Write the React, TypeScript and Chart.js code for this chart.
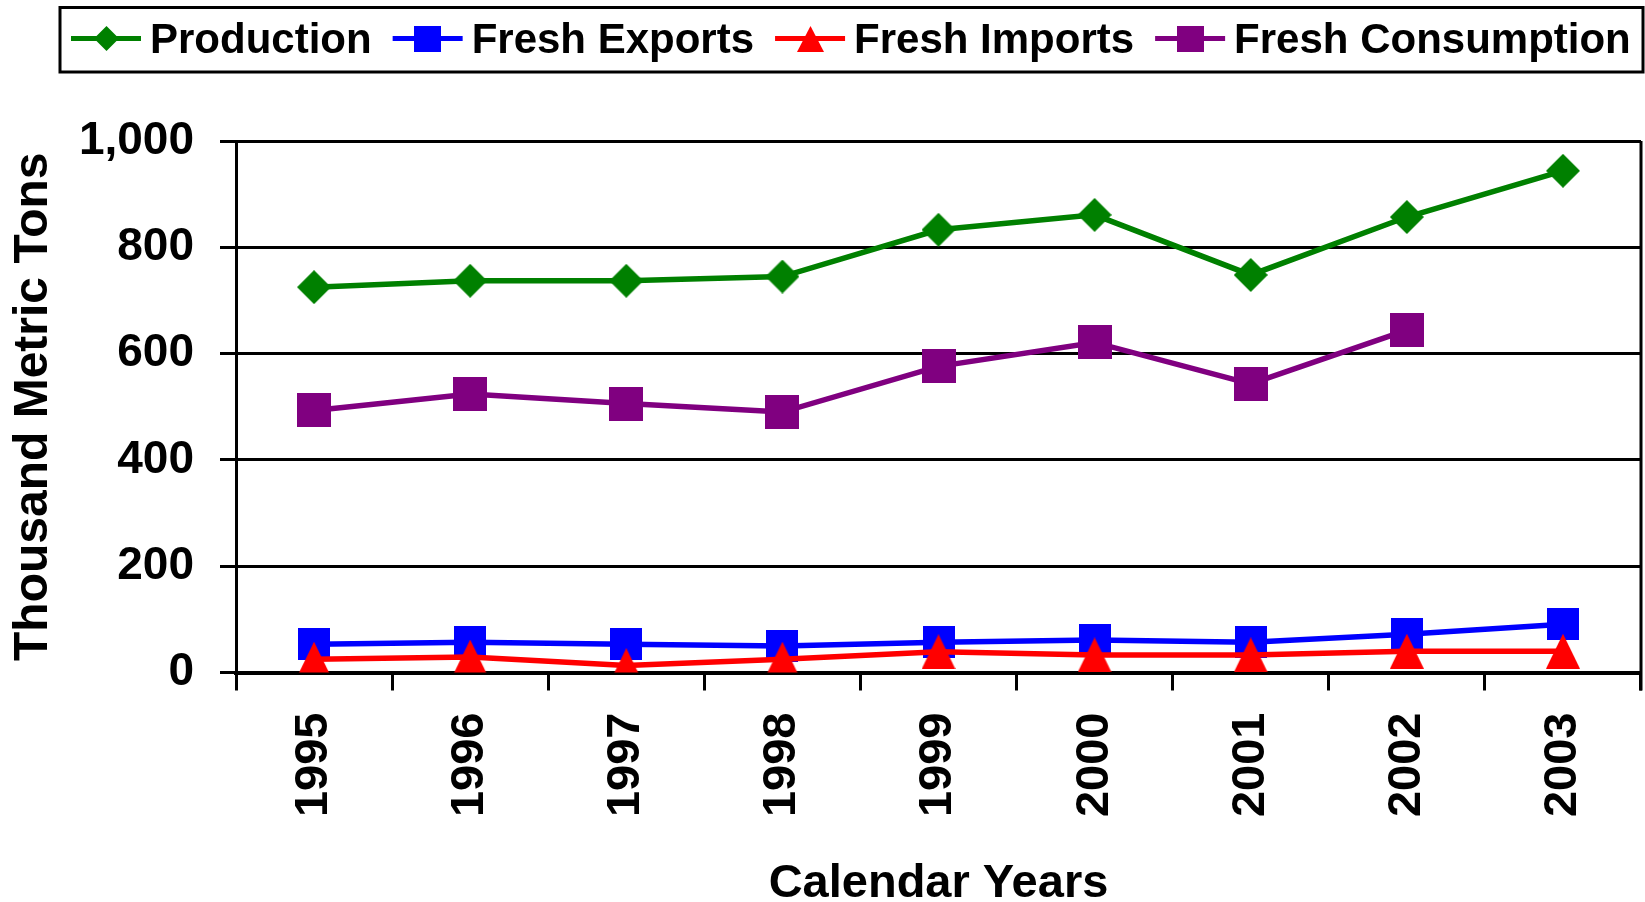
import React, { useEffect, useRef } from "react";
import { Chart, registerables } from "chart.js";

Chart.register(...registerables);

const years = ["1995", "1996", "1997", "1998", "1999", "2000", "2001", "2002", "2003"];
const production = [725, 737, 737, 745, 833, 861, 748, 857, 944];
const freshExports = [53, 57, 53, 50, 57, 61, 57, 72, 91];
const freshImports = [25, 29, 13, 25, 39, 33, 33, 40, 40];
const freshConsumption: (number | null)[] = [493, 524, 506, 490, 576, 621, 543, 644, null];
const seriesNames = ["Production", "Fresh Exports", "Fresh Imports", "Fresh Consumption"];
const yTicks = [0, 200, 400, 600, 800, 1000];

const FONT = '"Liberation Sans", Arial, Helvetica, sans-serif';

type Shape = "diamond" | "square" | "triangle";

function makeMarker(shape: Shape, color: string, w: number, h: number): HTMLCanvasElement {
  const c = document.createElement("canvas");
  c.width = w;
  c.height = h;
  const g = c.getContext("2d")!;
  g.fillStyle = color;
  g.beginPath();
  if (shape === "diamond") {
    g.moveTo(w / 2, 0);
    g.lineTo(w, h / 2);
    g.lineTo(w / 2, h);
    g.lineTo(0, h / 2);
  } else if (shape === "square") {
    g.rect(0, 0, w, h);
  } else {
    g.moveTo(w / 2, 0);
    g.lineTo(w, h);
    g.lineTo(0, h);
  }
  g.closePath();
  g.fill();
  return c;
}

export default function App() {
  const ref = useRef<HTMLCanvasElement | null>(null);

  useEffect(() => {
    if (!ref.current) return;
    const colors = ["#008000", "#0000FF", "#FF0000", "#800080"];
    const shapes: Shape[] = ["diamond", "square", "triangle", "square"];
    const drawOrder = [1, 2, 0, 1];
    const chartMarkerSizes = [[34, 34], [32, 32], [34, 35], [34, 34]];
    const legendMarkerSizes = [[25, 25], [27, 26], [27, 26], [27, 26]];
    const chartMarkers = shapes.map((s, i) => makeMarker(s, colors[i], chartMarkerSizes[i][0], chartMarkerSizes[i][1]));
    const legendMarkers = shapes.map((s, i) => makeMarker(s, colors[i], legendMarkerSizes[i][0], legendMarkerSizes[i][1]));
    const seriesData = [production, freshExports, freshImports, freshConsumption];

    const boxLegend = {
      id: "boxLegend",
      afterDraw(chart: any) {
        const ctx = chart.ctx as CanvasRenderingContext2D;
        ctx.save();
        ctx.font = `bold 42px ${FONT}`;
        ctx.textBaseline = "middle";
        ctx.textAlign = "left";
        let x = 71;
        const cy = 38.5;
        chart.data.datasets.forEach((ds: any, i: number) => {
          ctx.strokeStyle = ds.borderColor;
          ctx.lineWidth = 5;
          ctx.beginPath();
          ctx.moveTo(x, cy);
          ctx.lineTo(x + 70, cy);
          ctx.stroke();
          const m = legendMarkers[i];
          ctx.drawImage(m, Math.round(x + 35 - m.width / 2), Math.round(cy - m.height / 2));
          ctx.fillStyle = "#000";
          ctx.fillText(ds.label, x + 79, cy + 3);
          x += 79 + ctx.measureText(ds.label).width + 21;
        });
        ctx.lineWidth = 3;
        ctx.strokeStyle = "#000";
        ctx.strokeRect(60, 7.5, 1583, 64.5);
        ctx.restore();
      },
    };

    const rightBorder = {
      id: "rightBorder",
      afterDatasetsDraw(chart: any) {
        const { ctx, chartArea } = chart;
        ctx.save();
        ctx.strokeStyle = "#000";
        ctx.lineWidth = 3;
        ctx.beginPath();
        ctx.moveTo(chartArea.right, chartArea.top);
        ctx.lineTo(chartArea.right, chartArea.bottom + 18);
        ctx.stroke();
        ctx.restore();
      },
    };

    const chart = new Chart(ref.current, {
      type: "line",
      data: {
        labels: years,
        datasets: seriesNames.map((name, i) => ({
          label: name,
          data: seriesData[i] as any,
          borderColor: colors[i],
          backgroundColor: colors[i],
          borderWidth: 5.5,
          pointStyle: chartMarkers[i] as any,
          pointRadius: 17,
          pointHoverRadius: 17,
          tension: 0,
          spanGaps: false,
          order: drawOrder[i],
        })),
      },
      options: {
        animation: false,
        responsive: false,
        devicePixelRatio: 1,
        layout: { autoPadding: false, padding: { top: 141, right: 4, left: 0, bottom: 0 } },
        plugins: {
          legend: { display: false },
          tooltip: { enabled: false },
        },
        scales: {
          x: {
            type: "category",
            offset: true,
            grid: {
              offset: true,
              drawOnChartArea: false,
              drawTicks: true,
              tickLength: 18,
              tickWidth: 3,
              tickColor: "#000",
            },
            border: { display: true, color: "#000", width: 4 },
            ticks: {
              minRotation: 90,
              maxRotation: 90,
              autoSkip: false,
              padding: 22,
              color: "#000",
              font: { family: FONT, size: 47, weight: "bold" },
            },
            title: {
              display: true,
              text: "Calendar Years",
              color: "#000",
              font: { family: FONT, size: 47, weight: "bold", lineHeight: 1 },
              padding: { top: 0, bottom: -5.5 },
            },
            afterFit: (s: any) => {
              s.height = 229.5;
              s.paddingLeft = 0;
              s.paddingRight = 0;
            },
          },
          y: {
            min: 0,
            max: 1000,
            afterBuildTicks: (s: any) => {
              s.ticks = yTicks.map((v) => ({ value: v }));
            },
            ticks: {
              padding: 26,
              color: "#000",
              font: { family: FONT, size: 46, weight: "bold" },
              callback: (v: any) => Number(v).toLocaleString("en-US"),
            },
            grid: {
              color: "#000",
              lineWidth: 3,
              drawTicks: true,
              tickLength: 16,
              tickWidth: 3,
              tickColor: "#000",
            },
            border: { display: true, color: "#000", width: 3 },
            title: {
              display: true,
              text: "Thousand Metric Tons",
              color: "#000",
              font: { family: FONT, size: 48, weight: "bold", lineHeight: 1 },
              padding: { top: 10, bottom: 0 },
            },
            afterFit: (s: any) => {
              s.width = 236;
            },
          },
        },
      },
      plugins: [boxLegend, rightBorder],
    });
    return () => chart.destroy();
  }, []);

  return (
    <div style={{ position: "absolute", left: 0, top: 0, width: 1645, height: 902, background: "#fff" }}>
      <canvas ref={ref} width={1645} height={902} style={{ display: "block", width: 1645, height: 902 }} />
    </div>
  );
}
